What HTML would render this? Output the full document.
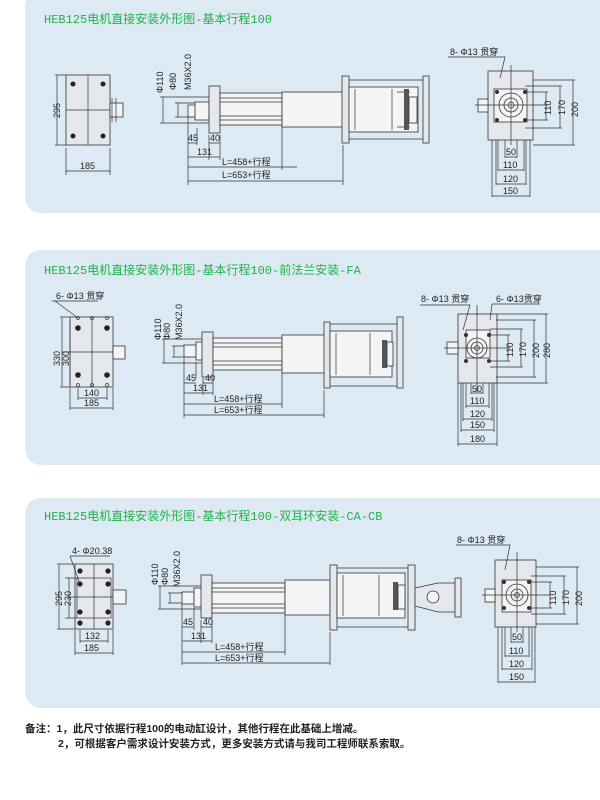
<!DOCTYPE html>
<html><head><meta charset="utf-8"><style>
html,body{margin:0;padding:0;background:#fff;width:600px;height:800px;overflow:hidden}
svg{display:block}
.t{font-family:"Liberation Mono","Noto Sans CJK SC",monospace;font-size:12px;fill:#22b14c}
.d{font-family:"Liberation Sans","Noto Sans CJK SC",sans-serif;font-size:9px;fill:#222}
.n{font-family:"Liberation Sans","Noto Sans CJK SC",sans-serif;font-size:10.5px;fill:#222;font-weight:bold}
.l{stroke:#333;stroke-width:0.7;fill:none}
.b{stroke:#333;stroke-width:0.8;fill:#e4e8ec}
.w{stroke:#333;stroke-width:0.8;fill:#f2f4f6}
</style></head><body>
<svg width="600" height="800" viewBox="0 0 600 800" xmlns="http://www.w3.org/2000/svg">
<rect x="25" y="-10" width="590" height="223" rx="16" fill="#dde9f3"/>
<rect x="25" y="250" width="590" height="215" rx="16" fill="#dde9f3"/>
<rect x="25" y="498" width="590" height="210" rx="16" fill="#dde9f3"/>

<!-- ===== Panel 1 ===== -->
<text class="t" x="44" y="23">HEB125电机直接安装外形图-基本行程100</text>
<rect class="b" x="66" y="75" width="44" height="70"/>
<line class="l" x1="88" y1="75" x2="88" y2="145"/><line class="l" x1="66" y1="110" x2="122" y2="110"/>
<circle cx="73" cy="84" r="2.5" fill="#222"/><circle cx="103" cy="84" r="2.5" fill="#222"/>
<circle cx="73" cy="136" r="2.5" fill="#222"/><circle cx="103" cy="136" r="2.5" fill="#222"/>
<rect class="w" x="110" y="103" width="13" height="14"/><line class="l" x1="112" y1="98" x2="112" y2="122"/><line class="l" x1="116" y1="98" x2="116" y2="122"/>
<path class="l" d="M55 75H66M55 145H66M57 75V145M66 148V175M110 148V175M66 171H110"/>
<text class="d" transform="translate(60,118) rotate(-90)">295</text>
<text class="d" x="80" y="169">185</text>
<path class="l" d="M160 97H215M160 123H215M175 103H195M175 117H195M163 97V123M178 103V117"/>
<rect class="w" x="188" y="105" width="8" height="12"/>
<rect class="w" x="195" y="102" width="14" height="18"/>
<rect class="b" x="209" y="86" width="11" height="47"/>
<rect class="w" x="220" y="93" width="62" height="32"/>
<path class="l" d="M220 98H282M220 102H282M220 116H282M220 120H282"/>
<rect class="w" x="282" y="92" width="61" height="35"/>
<rect class="b" x="342" y="76" width="7" height="67"/>
<rect class="b" x="423" y="76" width="6" height="67"/>
<path class="l" d="M349 80H423M349 139H423"/>
<rect class="w" x="349" y="87" width="69" height="45"/>
<path class="l" d="M355 89V130M392 89V130M397 92H410M397 127H410"/>
<rect x="404" y="89" width="5" height="41" fill="#555"/>
<rect class="w" x="409" y="97" width="8" height="26"/>
<text class="d" transform="translate(163,93) rotate(-90)">Φ110</text>
<text class="d" transform="translate(176,90) rotate(-90)">Φ80</text>
<text class="d" transform="translate(191,90) rotate(-90)">M36X2.0</text>
<path class="l" d="M188 117V185M197 128V145M209 135V160M220 135V160M343 145V185M282 127V170"/>
<path class="l" d="M188 143H197M209 143H220M188 157H220M188 167H297M188 181H343"/>
<text class="d" x="188" y="141">45</text><text class="d" x="210" y="141">40</text>
<text class="d" x="197" y="155">131</text>
<text class="d" x="222" y="165">L=458+行程</text>
<text class="d" x="222" y="178">L=653+行程</text>
<rect class="b" x="488" y="71" width="45" height="69"/>
<rect class="w" x="494" y="89" width="33" height="33"/>
<circle class="w" cx="511" cy="105" r="12"/><circle class="w" cx="511" cy="105" r="7"/><circle class="l" cx="511" cy="105" r="3"/>
<circle cx="497" cy="92" r="2" fill="#333"/><circle cx="525" cy="92" r="2" fill="#333"/><circle cx="497" cy="120" r="2" fill="#333"/><circle cx="525" cy="120" r="2" fill="#333"/>
<rect class="w" x="478" y="99" width="10" height="13"/>
<path class="l" d="M475 105H548M511 65V145M448 57H505L500 78"/>
<text class="d" x="450" y="55">8- Φ13 贯穿</text>
<path class="l" d="M527 92H548M527 120H548M525 86H562M525 128H562M533 80H575M533 145H575M546 92V120M560 86V128M573 80V145"/>
<text class="d" transform="translate(551,115) rotate(-90)">110</text>
<text class="d" transform="translate(565,115) rotate(-90)">170</text>
<text class="d" transform="translate(578,117) rotate(-90)">200</text>
<path class="l" d="M505 140V158M517 140V158M498 140V171M524 140V171M496 140V185M526 140V185M492 140V197M530 140V197M505 157H517M498 170H524M496 184H526M492 196H530"/>
<text class="d" x="506" y="155">50</text><text class="d" x="503" y="168">110</text><text class="d" x="503" y="182">120</text><text class="d" x="503" y="194">150</text>

<!-- ===== Panel 2 ===== -->
<text class="t" x="44" y="274">HEB125电机直接安装外形图-基本行程100-前法兰安装-FA</text>
<rect class="b" x="70" y="317" width="43" height="70"/>
<line class="l" x1="92" y1="317" x2="92" y2="387"/><line class="l" x1="62" y1="352" x2="125" y2="352"/>
<circle cx="78" cy="328" r="2.8" fill="#222"/><circle cx="107" cy="328" r="2.8" fill="#222"/>
<circle cx="78" cy="375" r="2.8" fill="#222"/><circle cx="107" cy="375" r="2.8" fill="#222"/>
<circle class="l" cx="78" cy="318" r="1.5"/><circle class="l" cx="92" cy="318" r="1.5"/><circle class="l" cx="107" cy="318" r="1.5"/>
<circle class="l" cx="78" cy="385" r="1.5"/><circle class="l" cx="92" cy="385" r="1.5"/><circle class="l" cx="107" cy="385" r="1.5"/>
<rect class="w" x="113" y="346" width="12" height="13"/>
<path class="l" d="M52 301H98M55 301L78 318M60 317H70M60 387H70M62 317V387M70 320V385M78 388V400M107 388V400M70 388V410M113 388V410M78 398H107M70 408H113"/>
<text class="d" x="56" y="299">6- Φ13 贯穿</text>
<text class="d" transform="translate(60,366) rotate(-90)">330</text>
<text class="d" transform="translate(69,366) rotate(-90)">300</text>
<text class="d" x="84" y="396">140</text><text class="d" x="84" y="406">185</text>
<path class="l" d="M162 339H208M162 363H208M172 346H190M172 357H190M164 339V363M174 346V357"/>
<rect class="w" x="184" y="345" width="12" height="12"/>
<rect class="w" x="196" y="342" width="7" height="18"/>
<rect class="b" x="202" y="332" width="11" height="45"/>
<rect class="w" x="213" y="338" width="69" height="32"/>
<path class="l" d="M213 343H282M213 347H282M213 361H282M213 365H282"/>
<rect class="w" x="282" y="335" width="43" height="38"/>
<rect class="b" x="324" y="322" width="6" height="66"/>
<rect class="b" x="397" y="317" width="6" height="71"/>
<path class="l" d="M330 324H397M330 386H397"/>
<rect class="w" x="330" y="331" width="62" height="46"/>
<path class="l" d="M336 333V375M370 333V375"/>
<rect x="382" y="340" width="5" height="28" fill="#555"/>
<rect class="w" x="387" y="342" width="6" height="24"/>
<text class="d" transform="translate(161,340) rotate(-90)">Φ110</text>
<text class="d" transform="translate(170,340) rotate(-90)">Φ80</text>
<text class="d" transform="translate(182,340) rotate(-90)">M36X2.0</text>
<path class="l" d="M184 358V418M196 362V378M203 378V395M213 378V395M282 373V408M324 390V418M184 383H196M203 383H213M184 393H213M184 404H282M184 415H324"/>
<text class="d" x="186" y="381">45</text><text class="d" x="205" y="381">40</text>
<text class="d" x="193" y="391">131</text>
<text class="d" x="214" y="402">L=458+行程</text>
<text class="d" x="214" y="413">L=653+行程</text>
<rect class="b" x="458" y="314" width="39" height="69"/>
<rect class="w" x="466" y="330" width="24" height="28"/>
<circle class="w" cx="477" cy="348" r="10"/><circle class="w" cx="477" cy="348" r="6"/><circle class="l" cx="477" cy="348" r="2.5"/>
<circle cx="466" cy="335" r="2" fill="#333"/><circle cx="489" cy="335" r="2" fill="#333"/><circle cx="466" cy="361" r="2" fill="#333"/><circle cx="489" cy="361" r="2" fill="#333"/>
<rect class="w" x="447" y="342" width="11" height="12"/>
<path class="l" d="M444 348H510M477 305V392M420 305H470L463 330M492 304H540M492 304L490 320"/>
<text class="d" x="421" y="302">8- Φ13 贯穿</text>
<text class="d" x="496" y="302">6- Φ13贯穿</text>
<path class="l" d="M491 335H510M491 361H510M490 329H523M490 367H523M496 320H536M496 377H536M497 314H548M497 383H548M508 335V361M521 329V367M534 320V377M546 314V383"/>
<text class="d" transform="translate(513,357) rotate(-90)">110</text>
<text class="d" transform="translate(526,357) rotate(-90)">170</text>
<text class="d" transform="translate(539,358) rotate(-90)">200</text>
<text class="d" transform="translate(550,358) rotate(-90)">280</text>
<path class="l" d="M471 383V394M483 383V394M466 383V408M489 383V408M463 383V421M492 383V421M461 383V432M494 383V432M458 383V446M497 383V446M471 393H483M466 406H489M463 419H492M461 430H494M458 444H497"/>
<text class="d" x="472" y="392">50</text><text class="d" x="470" y="404">110</text><text class="d" x="470" y="417">120</text><text class="d" x="470" y="428">150</text><text class="d" x="470" y="442">180</text>

<!-- ===== Panel 3 ===== -->
<text class="t" x="44" y="520">HEB125电机直接安装外形图-基本行程100-双耳环安装-CA-CB</text>
<rect class="b" x="75" y="564" width="38" height="65"/>
<rect class="l" x="77" y="578" width="34" height="40"/>
<line class="l" x1="94" y1="564" x2="94" y2="629"/><line class="l" x1="68" y1="597" x2="125" y2="597"/>
<circle cx="80" cy="571" r="2.6" fill="#222"/><circle cx="108" cy="571" r="2.6" fill="#222"/>
<circle cx="80" cy="584" r="2.6" fill="#222"/><circle cx="108" cy="584" r="2.6" fill="#222"/>
<circle cx="80" cy="612" r="2.6" fill="#222"/><circle cx="108" cy="612" r="2.6" fill="#222"/>
<circle cx="80" cy="623" r="2.6" fill="#222"/><circle cx="108" cy="623" r="2.6" fill="#222"/>
<rect class="w" x="113" y="590" width="13" height="14"/>
<path class="l" d="M70 556H110M70 556L80 584M57 564H75M65 578H77M65 618H77M57 629H75M59 564V629M69 578V618M80 630V643M108 630V643M75 630V655M113 630V655M80 641H108M75 653H113"/>
<text class="d" x="72" y="554">4- Φ20.38</text>
<text class="d" transform="translate(62,606) rotate(-90)">295</text>
<text class="d" transform="translate(71,606) rotate(-90)">230</text>
<text class="d" x="85" y="639">132</text><text class="d" x="84" y="651">185</text>
<path class="l" d="M158 586H205M158 609H205M168 593H185M168 603H185M160 586V609M170 593V603"/>
<rect class="w" x="182" y="592" width="12" height="12"/>
<rect class="w" x="194" y="588" width="8" height="19"/>
<rect class="b" x="201" y="575" width="11" height="43"/>
<rect class="w" x="212" y="583" width="73" height="30"/>
<path class="l" d="M212 588H285M212 592H285M212 604H285M212 608H285"/>
<rect class="w" x="285" y="580" width="45" height="35"/>
<rect class="b" x="330" y="565" width="7" height="65"/>
<rect class="b" x="408" y="565" width="7" height="65"/>
<path class="l" d="M337 568H408M337 627H408"/>
<rect class="w" x="337" y="573" width="68" height="45"/>
<path class="l" d="M343 575V616M379 575V616"/>
<rect x="393" y="582" width="5" height="28" fill="#555"/>
<rect class="w" x="398" y="585" width="7" height="24"/>
<path class="b" d="M415 588L438 583H455V612H438L415 606Z"/>
<rect class="b" x="455" y="578" width="6" height="39"/>
<circle class="w" cx="433" cy="597" r="6"/>
<text class="d" transform="translate(158,585) rotate(-90)">Φ110</text>
<text class="d" transform="translate(168,585) rotate(-90)">Φ80</text>
<text class="d" transform="translate(180,587) rotate(-90)">M36X2.0</text>
<path class="l" d="M182 604V665M194 608V630M201 620V643M212 620V643M285 615V655M330 632V665M182 627H194M201 627H212M182 641H212M182 652H285M182 663H330"/>
<text class="d" x="183" y="625">45</text><text class="d" x="203" y="625">40</text>
<text class="d" x="191" y="639">131</text>
<text class="d" x="215" y="650">L=458+行程</text>
<text class="d" x="215" y="661">L=653+行程</text>
<rect class="b" x="495" y="560" width="41" height="67"/>
<rect class="w" x="502" y="580" width="29" height="32"/>
<circle class="w" cx="517" cy="595" r="11"/><circle class="w" cx="517" cy="595" r="6"/><circle class="l" cx="517" cy="595" r="2.5"/>
<circle cx="504" cy="582" r="2" fill="#333"/><circle cx="529" cy="582" r="2" fill="#333"/><circle cx="504" cy="608" r="2" fill="#333"/><circle cx="529" cy="608" r="2" fill="#333"/>
<rect class="w" x="485" y="589" width="10" height="13"/>
<path class="l" d="M482 595H550M517 552V632M456 545H510L505 570"/>
<text class="d" x="457" y="543">8- Φ13 贯穿</text>
<path class="l" d="M531 582H552M531 608H552M531 576H566M531 614H566M536 567H579M536 624H579M550 582V608M564 576V614M577 567V624"/>
<text class="d" transform="translate(556,605) rotate(-90)">110</text>
<text class="d" transform="translate(569,605) rotate(-90)">170</text>
<text class="d" transform="translate(582,606) rotate(-90)">200</text>
<path class="l" d="M511 627V643M523 627V643M505 627V657M529 627V657M502 627V670M532 627V670M498 627V683M535 627V683M511 642H523M505 656H529M502 669H532M498 682H535"/>
<text class="d" x="512" y="640">50</text><text class="d" x="509" y="654">110</text><text class="d" x="509" y="667">120</text><text class="d" x="509" y="680">150</text>

<text class="n" x="25" y="732">备注：1，此尺寸依据行程100的电动缸设计，其他行程在此基础上增减。</text>
<text class="n" x="58" y="747">2，可根据客户需求设计安装方式，更多安装方式请与我司工程师联系索取。</text>
</svg>
</body></html>
